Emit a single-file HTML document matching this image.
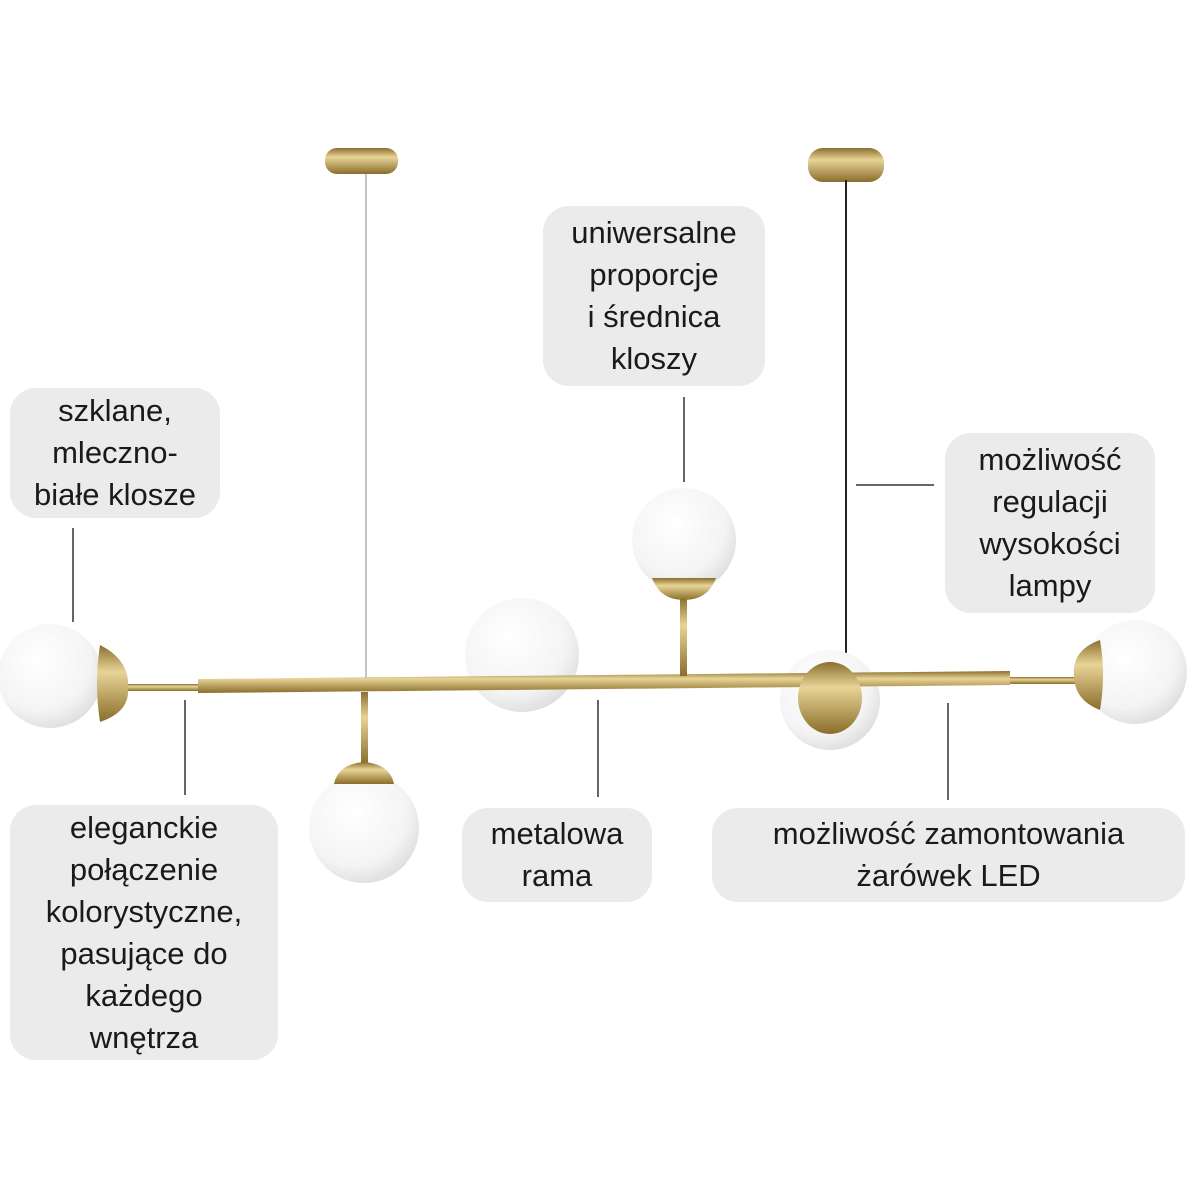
<!DOCTYPE html>
<html><head><meta charset="utf-8"><style>
body{margin:0;width:1200px;height:1200px;background:#fff;position:relative;overflow:hidden;font-family:"Liberation Sans",sans-serif;}
.b{position:absolute;background:#ebebeb;border-radius:26px;display:flex;align-items:center;justify-content:center;text-align:center;font-size:31px;line-height:42px;color:#1a1a1a;}
svg{position:absolute;left:0;top:0}
</style></head><body>
<svg width="1200" height="1200">
<defs>
<radialGradient id="g" cx="40%" cy="35%" r="70%"><stop offset="0" stop-color="#fff"/><stop offset="0.7" stop-color="#f4f4f4"/><stop offset="1" stop-color="#dcdcdc"/></radialGradient>
<linearGradient id="gold" x1="0" y1="0" x2="0" y2="1"><stop offset="0" stop-color="#8a6f2e"/><stop offset="0.35" stop-color="#e8d497"/><stop offset="1" stop-color="#8a6d2a"/></linearGradient>
</defs>
<g stroke="#333" stroke-width="1.5">
<line x1="73" y1="528" x2="73" y2="622"/>
<line x1="684" y1="397" x2="684" y2="482"/>
<line x1="856" y1="485" x2="934" y2="485"/>
<line x1="185" y1="700" x2="185" y2="795"/>
<line x1="598" y1="700" x2="598" y2="797"/>
<line x1="948" y1="703" x2="948" y2="800"/>
</g>
<rect x="325" y="148" width="73" height="26" rx="12" fill="url(#gold)"/>
<rect x="808" y="148" width="76" height="34" rx="15" fill="url(#gold)"/>
<line x1="366" y1="174" x2="366" y2="690" stroke="#888" stroke-width="1"/>
<line x1="846" y1="180" x2="846" y2="662" stroke="#222" stroke-width="2"/>
<circle cx="50" cy="676" r="52" fill="url(#g)"/>
<circle cx="1135" cy="672" r="52" fill="url(#g)"/>
<circle cx="522" cy="655" r="57" fill="url(#g)"/>
<circle cx="684" cy="540" r="52" fill="url(#g)"/>
<circle cx="830" cy="700" r="50" fill="url(#g)"/>
<circle cx="364" cy="828" r="55" fill="url(#g)"/>
<rect x="120" y="684" width="80" height="7" fill="url(#gold)"/>
<rect x="1008" y="677" width="80" height="7" fill="url(#gold)"/>
<polygon points="198,679 1010,671 1010,685 198,693" fill="url(#gold)"/>
<rect x="361" y="692" width="7" height="72" fill="url(#gold)"/>
<rect x="680" y="598" width="7" height="78" fill="url(#gold)"/>
<path d="M100,645 Q130,660 128,688 Q130,712 100,722 Q94,684 100,645 Z" fill="url(#gold)"/>
<path d="M1100,640 Q1072,650 1074,675 Q1074,700 1100,710 Q1106,675 1100,640 Z" fill="url(#gold)"/>
<path d="M334,784 Q338,764 364,762 Q390,764 394,784 Z" fill="url(#gold)"/>
<path d="M652,578 Q660,600 684,600 Q708,600 716,578 Z" fill="url(#gold)"/>
<ellipse cx="830" cy="698" rx="32" ry="36" fill="url(#gold)"/>
</svg>
<div class="b" style="left:10px;top:388px;width:210px;height:130px">szklane,<br>mleczno-<br>białe klosze</div>
<div class="b" style="left:543px;top:206px;width:222px;height:180px">uniwersalne<br>proporcje<br>i średnica<br>kloszy</div>
<div class="b" style="left:945px;top:433px;width:210px;height:180px">możliwość<br>regulacji<br>wysokości<br>lampy</div>
<div class="b" style="left:10px;top:805px;width:268px;height:255px">eleganckie<br>połączenie<br>kolorystyczne,<br>pasujące do<br>każdego<br>wnętrza</div>
<div class="b" style="left:462px;top:808px;width:190px;height:94px">metalowa<br>rama</div>
<div class="b" style="left:712px;top:808px;width:473px;height:94px">możliwość zamontowania<br>żarówek LED</div>
</body></html>
